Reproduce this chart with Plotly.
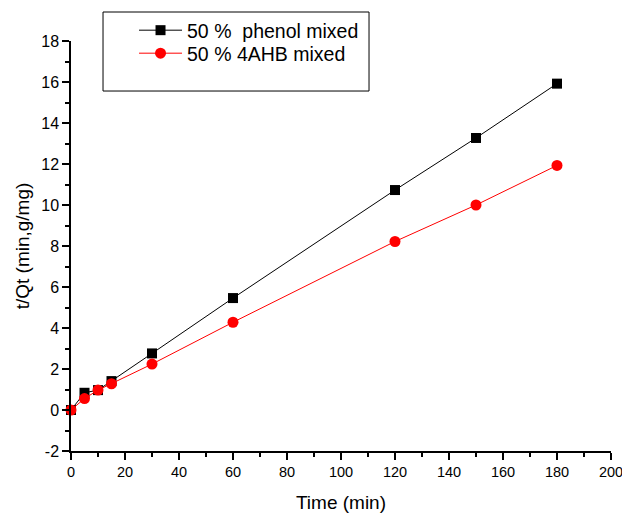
import plotly.graph_objects as go

time_min = [0, 5, 10, 15, 30, 60, 120, 150, 180]
phenol = [0.0, 0.84, 0.97, 1.41, 2.76, 5.46, 10.73, 13.27, 15.92]
ahb = [0.0, 0.56, 0.97, 1.28, 2.24, 4.28, 8.22, 10.0, 11.93]
series_names = ["50 %\u00a0 phenol mixed", "50 % 4AHB mixed"]
y_tick_vals = [-2, 0, 2, 4, 6, 8, 10, 12, 14, 16, 18]
y_tick_text = ["-2", "0", "2", "4", "6", "8", "10", "12", "14", "16", "18"]

FONT = "Arial, Liberation Sans"

fig = go.Figure()
fig.add_trace(go.Scatter(x=time_min, y=phenol, mode="lines+markers",
                         name=series_names[0], legend="legend",
                         line=dict(color="black", width=1),
                         marker=dict(symbol="square", size=10, color="black"),
                         cliponaxis=False))
fig.add_trace(go.Scatter(x=time_min, y=ahb, mode="lines+markers",
                         name=series_names[1], legend="legend2",
                         line=dict(color="red", width=1),
                         marker=dict(symbol="circle", size=11, color="red"),
                         cliponaxis=False))

axis_common = dict(showline=True, linecolor="black", linewidth=1.5, ticks="outside",
                   ticklen=7, tickwidth=1.5, tickcolor="black", showgrid=False, zeroline=False,
                   automargin=False, ticklabeloverflow="allow")

fig.update_xaxes(range=[0, 200], dtick=20, tick0=0,
                 tickfont=dict(family=FONT, size=14.5, color="black"),
                 minor=dict(ticks="outside", ticklen=4, dtick=10, tickcolor="black", tickwidth=1.5),
                 title=dict(text="Time (min)", font=dict(family=FONT, size=19, color="black"), standoff=17),
                 **axis_common)
fig.update_yaxes(range=[-2, 18], tickmode="array", tickvals=y_tick_vals, ticktext=y_tick_text,
                 tickfont=dict(family=FONT, size=16, color="black"),
                 minor=dict(ticks="outside", ticklen=4, dtick=1, tickcolor="black", tickwidth=1.5),
                 title=dict(text="t/Qt (min,g/mg)", font=dict(family=FONT, size=19, color="black"), standoff=7),
                 **axis_common)

leg_common = dict(xanchor="left", yanchor="top", borderwidth=0, bgcolor="rgba(0,0,0,0)",
                  itemwidth=43,
                  font=dict(size=19.5, family=FONT, color="black"))
fig.update_layout(width=622, height=513,
                  margin=dict(l=71, r=11, t=41, b=62, autoexpand=False),
                  plot_bgcolor="white", paper_bgcolor="white",
                  font=dict(family=FONT, color="black"),
                  legend=dict(x=0.1167, y=(451 - 11) / 410, **leg_common),
                  legend2=dict(x=0.1167, y=(451 - 34) / 410, **leg_common),
                  shapes=[dict(type="rect", xref="paper", yref="paper",
                               x0=0.0593, x1=0.5519, y0=0.878, y1=1.0707,
                               line=dict(color="black", width=1), fillcolor="rgba(0,0,0,0)")],
                  showlegend=True)

fig.write_html("out.html", post_script="document.body.style.margin='0';",
               config={"displayModeBar": False})
